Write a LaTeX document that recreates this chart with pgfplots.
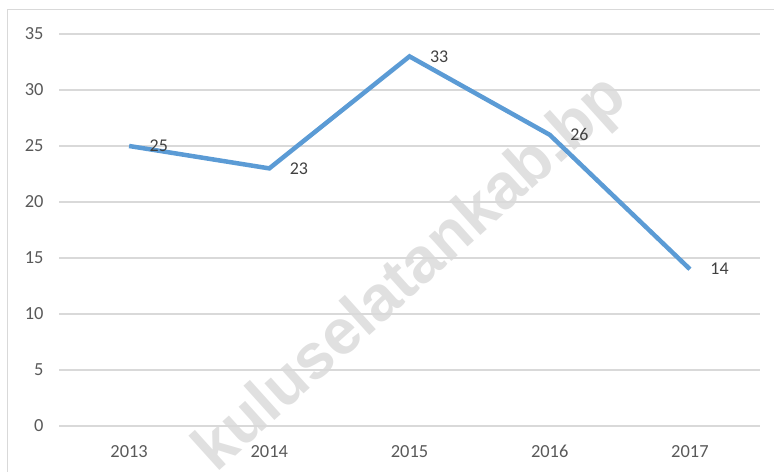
\documentclass[border=0pt]{standalone}
\usepackage{fontspec}
\setmainfont{Carlito}
\newfontfamily\wmfont{Liberation Sans}
\usepackage{pgfplots}
\pgfplotsset{compat=1.18}

\definecolor{lineblue}{HTML}{5B9BD5}
\definecolor{gridgray}{HTML}{D9D9D9}
\definecolor{ticktext}{HTML}{595959}
\definecolor{labeltext}{HTML}{404040}

\begin{document}
\begin{tikzpicture}[x=1bp,y=1bp]
\useasboundingbox (0,0) rectangle (774,472);
% chart frame
\draw[gridgray, line width=1bp] (7,-2) -- (7,462) -- (776,462);

% watermark
\node[rotate=42, text=black!12, font=\wmfont\bfseries\fontsize{64}{64}\selectfont]
  at (412,197) {kuluselatankab.bp};

\begin{axis}[
    at={(59bp,46bp)}, anchor=south west,
    scale only axis,
    width=701bp, height=392bp,
    xmin=-0.5, xmax=4.5,
    ymin=0, ymax=35,
    xtick={0,1,2,3,4},
    xticklabels={2013,2014,2015,2016,2017},
    ytick={0,5,...,35},
    ymajorgrids,
    grid style={gridgray, line width=1.2bp},
    axis line style={draw=none},
    major tick length=0pt,
    tick label style={font=\fontsize{18.5}{18.5}\selectfont, text=ticktext},
    /pgf/number format/assume math mode=true,
    yticklabel style={xshift=-12bp},
    xticklabel style={yshift=-16bp},
    clip=false,
    nodes near coords,
    nodes near coords style={anchor=west, xshift=15bp, font=\fontsize{18}{18}\selectfont, text=labeltext, /pgf/number format/assume math mode=true},
]
\addplot[lineblue, line width=4.5bp, mark=none] coordinates {
    (0,25) (1,23) (2,33) (3,26) (4,14)
};
\end{axis}
\end{tikzpicture}
\end{document}
